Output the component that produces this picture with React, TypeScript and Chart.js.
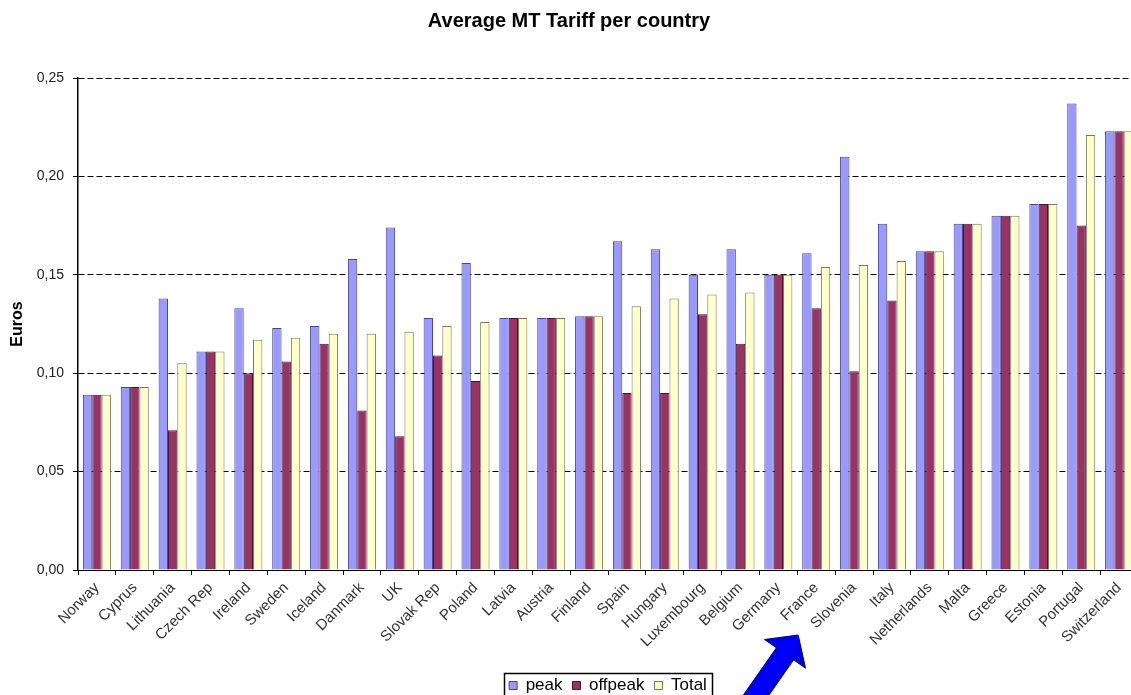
import React, { useEffect, useRef } from 'react';
import { Chart, registerables } from 'chart.js';

Chart.register(...registerables);

const categories = [
  'Norway', 'Cyprus', 'Lithuania', 'Czech Rep', 'Ireland', 'Sweden', 'Iceland',
  'Danmark', 'UK', 'Slovak Rep', 'Poland', 'Latvia', 'Austria', 'Finland',
  'Spain', 'Hungary', 'Luxembourg', 'Belgium', 'Germany', 'France', 'Slovenia',
  'Italy', 'Netherlands', 'Malta', 'Greece', 'Estonia', 'Portugal', 'Switzerland',
];

const peak = [
  0.089, 0.093, 0.138, 0.111, 0.133, 0.123, 0.124,
  0.158, 0.174, 0.128, 0.156, 0.128, 0.128, 0.129,
  0.167, 0.163, 0.150, 0.163, 0.150, 0.161, 0.210,
  0.176, 0.162, 0.176, 0.180, 0.186, 0.237, 0.223,
];

const offpeak = [
  0.089, 0.093, 0.071, 0.111, 0.100, 0.106, 0.115,
  0.081, 0.068, 0.109, 0.096, 0.128, 0.128, 0.129,
  0.090, 0.090, 0.130, 0.115, 0.150, 0.133, 0.101,
  0.137, 0.162, 0.176, 0.180, 0.186, 0.175, 0.223,
];

const total = [
  0.089, 0.093, 0.105, 0.111, 0.117, 0.118, 0.120,
  0.120, 0.121, 0.124, 0.126, 0.128, 0.128, 0.129,
  0.134, 0.138, 0.140, 0.141, 0.150, 0.154, 0.155,
  0.157, 0.162, 0.176, 0.180, 0.186, 0.221, 0.223,
];

const seriesNames = ['peak', 'offpeak', 'Total'];
const yTicks = [0, 0.05, 0.1, 0.15, 0.2, 0.25];
const yTickLabels = ['0,00', '0,05', '0,10', '0,15', '0,20', '0,25'];
const chartTitle = 'Average MT Tariff per country';
const yAxisTitle = 'Euros';
const arrowTarget = 'France';

const FONT = '"Liberation Sans", Arial, Helvetica, sans-serif';

export default function App() {
  const ref = useRef<HTMLCanvasElement | null>(null);

  useEffect(() => {
    if (!ref.current) return;

    const legendPlugin = {
      id: 'legendFrame',
      afterLayout(chart: any) {
        const lg = chart.legend;
        const ca = chart.chartArea;
        if (!lg || !ca) return;
        const dx = (ca.left + ca.right) / 2 - (lg.left + lg.right) / 2;
        lg.left += dx;
        lg.right += dx;
      },
      afterDraw(chart: any) {
        const lg = chart.legend;
        const boxes = lg && lg.legendHitBoxes;
        if (!boxes || !boxes.length) return;
        const ctx = chart.ctx;
        let l = Infinity, r = -Infinity, t = Infinity, b = -Infinity;
        boxes.forEach((h: any) => {
          l = Math.min(l, h.left);
          r = Math.max(r, h.left + h.width);
          t = Math.min(t, h.top);
          b = Math.max(b, h.top + h.height);
        });
        ctx.save();
        ctx.strokeStyle = '#000';
        ctx.lineWidth = 1.5;
        ctx.strokeRect(Math.round(l - 5) + 0.5, Math.round(t - 4) + 0.5, Math.round(r - l + 10), Math.round(b - t + 8));
        ctx.restore();
      },
    };

    const arrowPlugin = {
      id: 'blueArrow',
      afterDraw(chart: any) {
        const { ctx, chartArea, scales } = chart;
        const fx = scales.x.getPixelForValue(categories.indexOf(arrowTarget));
        const tip = { x: fx - 18, y: chartArea.bottom + 65 };
        const ang = (55 * Math.PI) / 180;
        const d = { x: Math.cos(ang), y: -Math.sin(ang) };
        const n = { x: -d.y, y: d.x };
        const headLen = 23, headHalf = 25, shaftHalf = 10.5, shaftLen = 70;
        const bx = tip.x - headLen * d.x;
        const by = tip.y - headLen * d.y;
        const tx = bx - shaftLen * d.x;
        const ty = by - shaftLen * d.y;
        const pts = [
          [tip.x, tip.y],
          [bx + headHalf * n.x, by + headHalf * n.y],
          [bx + shaftHalf * n.x, by + shaftHalf * n.y],
          [tx + shaftHalf * n.x, ty + shaftHalf * n.y],
          [tx - shaftHalf * n.x, ty - shaftHalf * n.y],
          [bx - shaftHalf * n.x, by - shaftHalf * n.y],
          [bx - headHalf * n.x, by - headHalf * n.y],
        ];
        ctx.save();
        const g = ctx.createLinearGradient(bx - headHalf * n.x, by - headHalf * n.y, bx + headHalf * n.x, by + headHalf * n.y);
        g.addColorStop(0, '#0000e8');
        g.addColorStop(0.5, '#0000ff');
        g.addColorStop(1, '#0000b0');
        ctx.fillStyle = g;
        ctx.strokeStyle = '#000070';
        ctx.lineWidth = 1;
        ctx.beginPath();
        pts.forEach(([x, y], i) => (i ? ctx.lineTo(x, y) : ctx.moveTo(x, y)));
        ctx.closePath();
        ctx.fill();
        ctx.stroke();
        ctx.restore();
      },
    };

    const chart = new Chart(ref.current, {
      type: 'bar',
      data: {
        labels: categories,
        datasets: [
          { label: seriesNames[0], data: peak, backgroundColor: '#9999FF', borderColor: '#45458a', borderWidth: 1 },
          { label: seriesNames[1], data: offpeak, backgroundColor: '#993366', borderColor: '#3d1a2b', borderWidth: 1 },
          { label: seriesNames[2], data: total, backgroundColor: '#FFFFCC', borderColor: '#77775a', borderWidth: 1 },
        ],
      },
      options: {
        responsive: false,
        animation: false,
        layout: { padding: 0 },
        datasets: {
          bar: { categoryPercentage: 0.74, barPercentage: 1.0 },
        },
        plugins: {
          title: {
            display: true,
            text: chartTitle,
            color: '#000',
            font: { family: FONT, size: 20, weight: 'bold' },
            padding: { top: 9, bottom: 45 },
          },
          legend: {
            display: true,
            position: 'bottom',
            labels: {
              color: '#000',
              font: { family: FONT, size: 17 },
              boxWidth: 8,
              boxHeight: 8,
              padding: 10,
            },
          },
          tooltip: { enabled: false },
        },
        scales: {
          x: {
            offset: true,
            grid: {
              display: true,
              drawOnChartArea: false,
              drawTicks: true,
              tickLength: 5,
              color: '#000',
              offset: true,
            },
            border: { display: true, color: '#000', width: 1 },
            ticks: {
              autoSkip: false,
              maxRotation: 45,
              minRotation: 45,
              padding: 4,
              color: '#333',
              font: { family: FONT, size: 15 },
            },
            afterFit(scale: any) {
              scale.height = 97;
            },
          },
          y: {
            min: 0,
            max: 0.25,
            afterBuildTicks(scale: any) {
              scale.ticks = yTicks.map((v) => ({ value: v }));
            },
            afterFit(scale: any) {
              scale.width = 78;
            },
            grid: {
              color: '#000',
              lineWidth: 1,
              drawTicks: true,
              tickLength: 5,
              tickColor: '#000',
            },
            border: { display: true, color: '#000', width: 1.5, dash: [6, 3] },
            ticks: {
              padding: 9,
              color: '#222',
              font: { family: FONT, size: 14 },
              callback: (value: any) => {
                const i = yTicks.findIndex((t) => Math.abs(t - Number(value)) < 1e-9);
                return i >= 0 ? yTickLabels[i] : '';
              },
            },
            title: {
              display: true,
              text: yAxisTitle,
              color: '#000',
              font: { family: FONT, size: 16, weight: 'bold' },
              padding: { top: 8, bottom: 0 },
            },
          },
        },
      },
      plugins: [legendPlugin, arrowPlugin],
    } as any);

    return () => chart.destroy();
  }, []);

  return (
    <div
      style={{
        position: 'absolute',
        left: 0,
        top: 0,
        width: 1131,
        height: 695,
        overflow: 'hidden',
        background: '#fff',
      }}
    >
      <canvas ref={ref} width={1138} height={704} style={{ display: 'block' }} />
    </div>
  );
}
